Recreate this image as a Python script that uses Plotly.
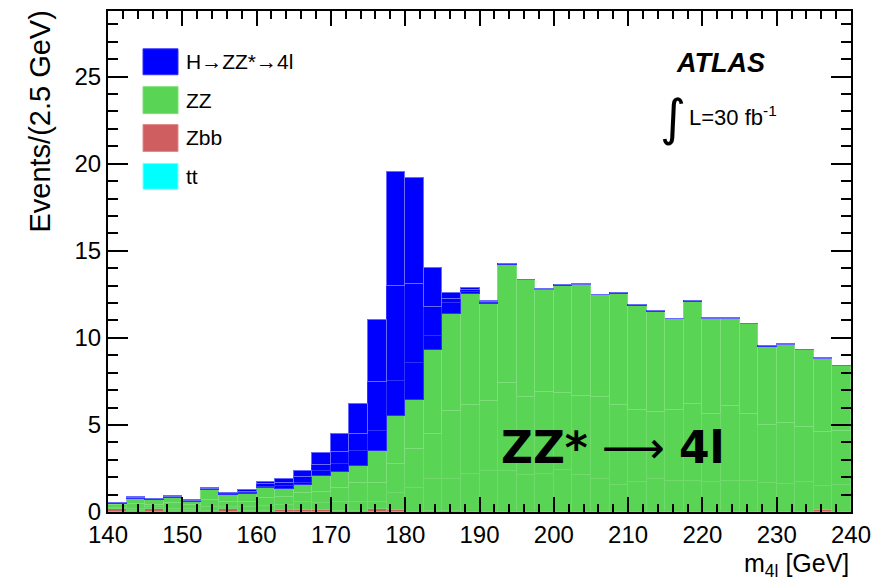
import numpy as np
import plotly.graph_objects as go

# bin low edges (2.5 GeV bins, 140-240 GeV)
bin_edges = [140 + 2.5 * i for i in range(41)]

# tt background (bottom of stack)
tt = [0.0] * 40
# Zbb background heights
zbb = [0.17, 0.03, 0.20, 0.05, 0.03, 0.08, 0.15, 0.05, 0.03, 0.10,
       0.10, 0.12, 0.05, 0.05, 0.20, 0.10, 0.02, 0.05, 0.08, 0.02,
       0.00, 0.00, 0.02, 0.00, 0.00, 0.00, 0.02, 0.00, 0.00, 0.00,
       0.00, 0.00, 0.00, 0.00, 0.00, 0.00, 0.00, 0.00, 0.10, 0.00]
# ZZ sub-sample stack tops (cumulative levels)
zz_a_top = [0.25, 0.20, 0.28, 0.20, 0.15, 0.30, 0.28, 0.30, 0.35, 0.40,
            0.60, 0.50, 0.60, 0.55, 0.55, 1.10, 1.40, 1.92, 1.90, 2.21,
            2.36, 2.34, 2.15, 2.17, 2.40, 2.10, 1.87, 1.56, 1.70, 1.92,
            1.77, 1.80, 1.72, 1.76, 1.77, 1.65, 1.60, 1.70, 1.52, 1.55]
zz_b_top = [0.38, 0.45, 0.42, 0.50, 0.38, 0.70, 0.55, 0.60, 0.80, 0.85,
            1.12, 1.16, 1.40, 1.64, 1.64, 2.78, 3.60, 4.50, 5.80, 6.15,
            6.38, 7.41, 6.63, 6.90, 6.84, 6.67, 6.63, 6.17, 5.87, 5.73,
            5.88, 6.21, 5.60, 6.10, 5.64, 4.97, 5.09, 4.90, 4.57, 4.68]
zz_top = [0.48, 0.77, 0.68, 0.82, 0.60, 1.24, 0.95, 1.01, 1.35, 1.30,
          1.56, 2.04, 2.27, 2.66, 3.49, 5.54, 6.46, 9.33, 11.39, 12.53,
          11.92, 14.20, 13.30, 12.73, 13.00, 13.03, 12.44, 12.53, 11.83, 11.51,
          11.06, 12.07, 11.09, 11.09, 10.77, 9.50, 9.60, 9.29, 8.80, 8.38]
# Higgs sub-sample stack tops
h_a_top = [0.49, 0.79, 0.70, 0.85, 0.62, 1.28, 1.01, 1.09, 1.46, 1.50,
           1.68, 2.36, 2.78, 3.49, 4.65, 7.54, 8.55, 10.11, 11.98, 12.65,
           11.98, 14.22, 13.32, 12.75, 13.02, 13.04, 12.45, 12.54, 11.84, 11.52,
           11.07, 12.08, 11.10, 11.10, 10.78, 9.51, 9.61, 9.30, 8.81, 8.39]
h_b_top = [0.50, 0.81, 0.72, 0.88, 0.64, 1.31, 1.07, 1.16, 1.58, 1.66,
           2.00, 2.72, 3.45, 4.47, 7.47, 13.00, 13.10, 11.79, 12.25, 12.75,
           12.05, 14.25, 13.33, 12.77, 13.03, 13.06, 12.47, 12.56, 11.86, 11.53,
           11.08, 12.09, 11.11, 11.11, 10.79, 9.51, 9.61, 9.30, 8.81, 8.39]
total_top = [0.52, 0.84, 0.74, 0.91, 0.67, 1.35, 1.12, 1.24, 1.70, 1.87,
             2.36, 3.41, 4.49, 6.22, 11.00, 19.52, 19.16, 14.02, 12.55, 12.86,
             12.11, 14.27, 13.35, 12.78, 13.05, 13.07, 12.48, 12.57, 11.87, 11.54,
             11.09, 12.10, 11.12, 11.12, 10.80, 9.52, 9.62, 9.31, 8.82, 8.40]

x_ticks = [140, 150, 160, 170, 180, 190, 200, 210, 220, 230, 240]
y_ticks = [0, 5, 10, 15, 20, 25]

edges = np.array(bin_edges)
centers = 0.5 * (edges[:-1] + edges[1:])
width = np.diff(edges)

tt_a = np.array(tt)
zbb_a = np.array(zbb)
base = tt_a + zbb_a
zz1 = np.array(zz_a_top) - base
zz2 = np.array(zz_b_top) - np.array(zz_a_top)
zz3 = np.array(zz_top) - np.array(zz_b_top)
h1 = np.array(h_a_top) - np.array(zz_top)
h2 = np.array(h_b_top) - np.array(h_a_top)
h3 = np.array(total_top) - np.array(h_b_top)

BLUE = "#0000ff"
GREEN = "#59d454"
RED = "#cf5e61"
CYAN = "#00ffff"

fig = go.Figure()


def add(vals, color, line, name):
    fig.add_trace(go.Bar(x=centers, y=vals, width=width, name=name,
                         marker=dict(color=color, line=dict(color=line, width=1)),
                         showlegend=False))


add(tt_a, CYAN, "#80ffff", "tt")
add(zbb_a, RED, "#e08a8c", "Zbb")
add(zz1, GREEN, "#70db6c", "ZZ")
add(zz2, GREEN, "#70db6c", "ZZ")
add(zz3, GREEN, "#7ddf79", "ZZ")
add(h1, BLUE, "#3030ff", "H")
add(h2, BLUE, "#3030ff", "H")
add(h3, BLUE, "#6a6aff", "H")

FONT = "Liberation Sans"
L, R, T, B = 108, 36, 9, 68
W, H = 887, 580
pw, ph = W - L - R, H - T - B


def px(xp):
    return (xp - L) / pw


def py(yp):
    return (T + ph - yp) / ph


def note(xp, yp, text, size, family=FONT, xanchor="center", yanchor="middle", angle=0):
    fig.add_annotation(xref="paper", yref="paper", x=px(xp), y=py(yp), text=text,
                       showarrow=False, xanchor=xanchor, yanchor=yanchor,
                       textangle=angle,
                       font=dict(family=family, size=size, color="black"))


# manual legend (big boxes as in the original)
legend_items = [("H\u2192ZZ*\u21924l", BLUE, "#3030ff", 47, 73),
                ("ZZ", GREEN, "#7ddf79", 85, 112),
                ("Zbb", RED, "#e08a8c", 123, 150),
                ("tt", CYAN, "#80ffff", 162, 188)]
for label, col, lc, y0, y1 in legend_items:
    fig.add_shape(type="rect", xref="paper", yref="paper",
                  x0=px(143), x1=px(178), y0=py(y1), y1=py(y0),
                  fillcolor=col, line=dict(color=lc, width=1))
    note(184, (y0 + y1) / 2, label, 21, xanchor="left")

note(720, 61, "<b><i>ATLAS</i></b>", 27)
note(673, 116, "\u222b", 50, family="DejaVu Sans")
note(687, 114, "L=30 fb<sup>-1</sup>", 22, xanchor="left")

fig.add_annotation(x=207.9, y=3.7, xref="x", yref="y",
                   text="<b>ZZ*</b> \u27f6 <b>4l</b>", showarrow=False,
                   xanchor="center", yanchor="middle",
                   font=dict(family="DejaVu Sans", size=44, color="black"))

note(40, 120, "Events/(2.5 GeV)", 29, angle=-90)
note(851, 565, "m<sub>4l</sub> [GeV]", 25, xanchor="right")

fig.update_layout(
    width=W, height=H, barmode="stack", bargap=0,
    margin=dict(l=L, r=R, t=T, b=B),
    plot_bgcolor="white", paper_bgcolor="white", showlegend=False,
    font=dict(family=FONT, size=24, color="black"),
    xaxis=dict(range=[140, 240], tickvals=x_ticks, ticks="inside", ticklen=15,
               tickwidth=1.5, tickcolor="black", mirror="allticks", showline=True,
               linecolor="black", linewidth=2, showgrid=False, zeroline=False,
               minor=dict(dtick=2, ticks="inside", ticklen=8, tickwidth=1.5,
                          tickcolor="black", showgrid=False),
               tickfont=dict(size=24)),
    yaxis=dict(range=[0, 28.77], tickvals=y_ticks, ticks="inside", ticklen=20,
               tickwidth=1.5, tickcolor="black", mirror="allticks", showline=True,
               linecolor="black", linewidth=2, showgrid=False, zeroline=False,
               minor=dict(dtick=1, ticks="inside", ticklen=10, tickwidth=1.5,
                          tickcolor="black", showgrid=False),
               tickfont=dict(size=24)),
)

fig.write_html("out.html")
